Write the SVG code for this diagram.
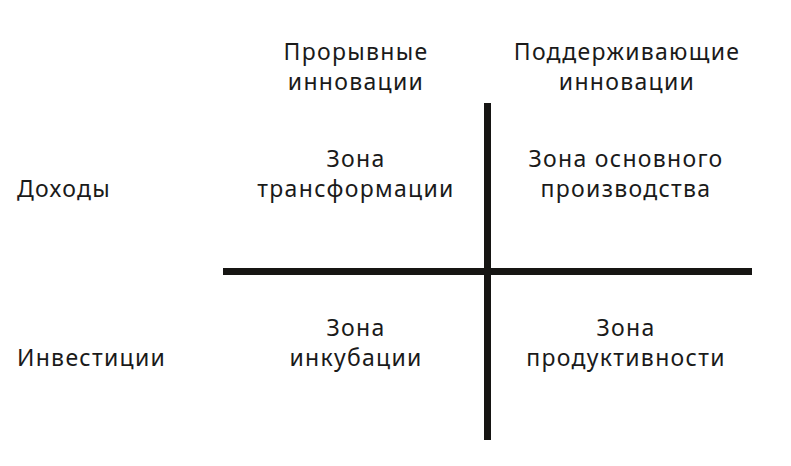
<svg xmlns="http://www.w3.org/2000/svg" width="791" height="466" viewBox="0 0 791 466">
<style>
text{font-family:"Noto Sans","Open Sans",sans-serif;font-size:23px;fill:#1a1a1a;letter-spacing:1.3px}
.c{text-anchor:middle}
.ax{stroke:#161513;stroke-width:7;fill:none}
</style>
<rect width="791" height="466" fill="#fff"/>
<g id="connectors">
<line class="ax" x1="223" y1="271.5" x2="752" y2="271.5"/>
<line class="ax" x1="487.5" y1="103" x2="487.5" y2="440"/>
</g>
<g id="col-disruptive"><text class="c" x="356" y="60">Прорывные</text><text class="c" x="356" y="90">инновации</text></g>
<g id="col-sustaining"><text class="c" x="627" y="60">Поддерживающие</text><text class="c" x="627" y="90">инновации</text></g>
<g id="row-income"><text x="17" y="197">Доходы</text></g>
<g id="row-invest"><text x="17" y="366">Инвестиции</text></g>
<g id="zone-transform"><text class="c" x="356" y="167">Зона</text><text class="c" x="356" y="197">трансформации</text></g>
<g id="zone-core"><text class="c" x="626" y="167">Зона основного</text><text class="c" x="626" y="197">производства</text></g>
<g id="zone-incub"><text class="c" x="356" y="336">Зона</text><text class="c" x="356" y="366">инкубации</text></g>
<g id="zone-product"><text class="c" x="626" y="336">Зона</text><text class="c" x="626" y="366">продуктивности</text></g>
</svg>
